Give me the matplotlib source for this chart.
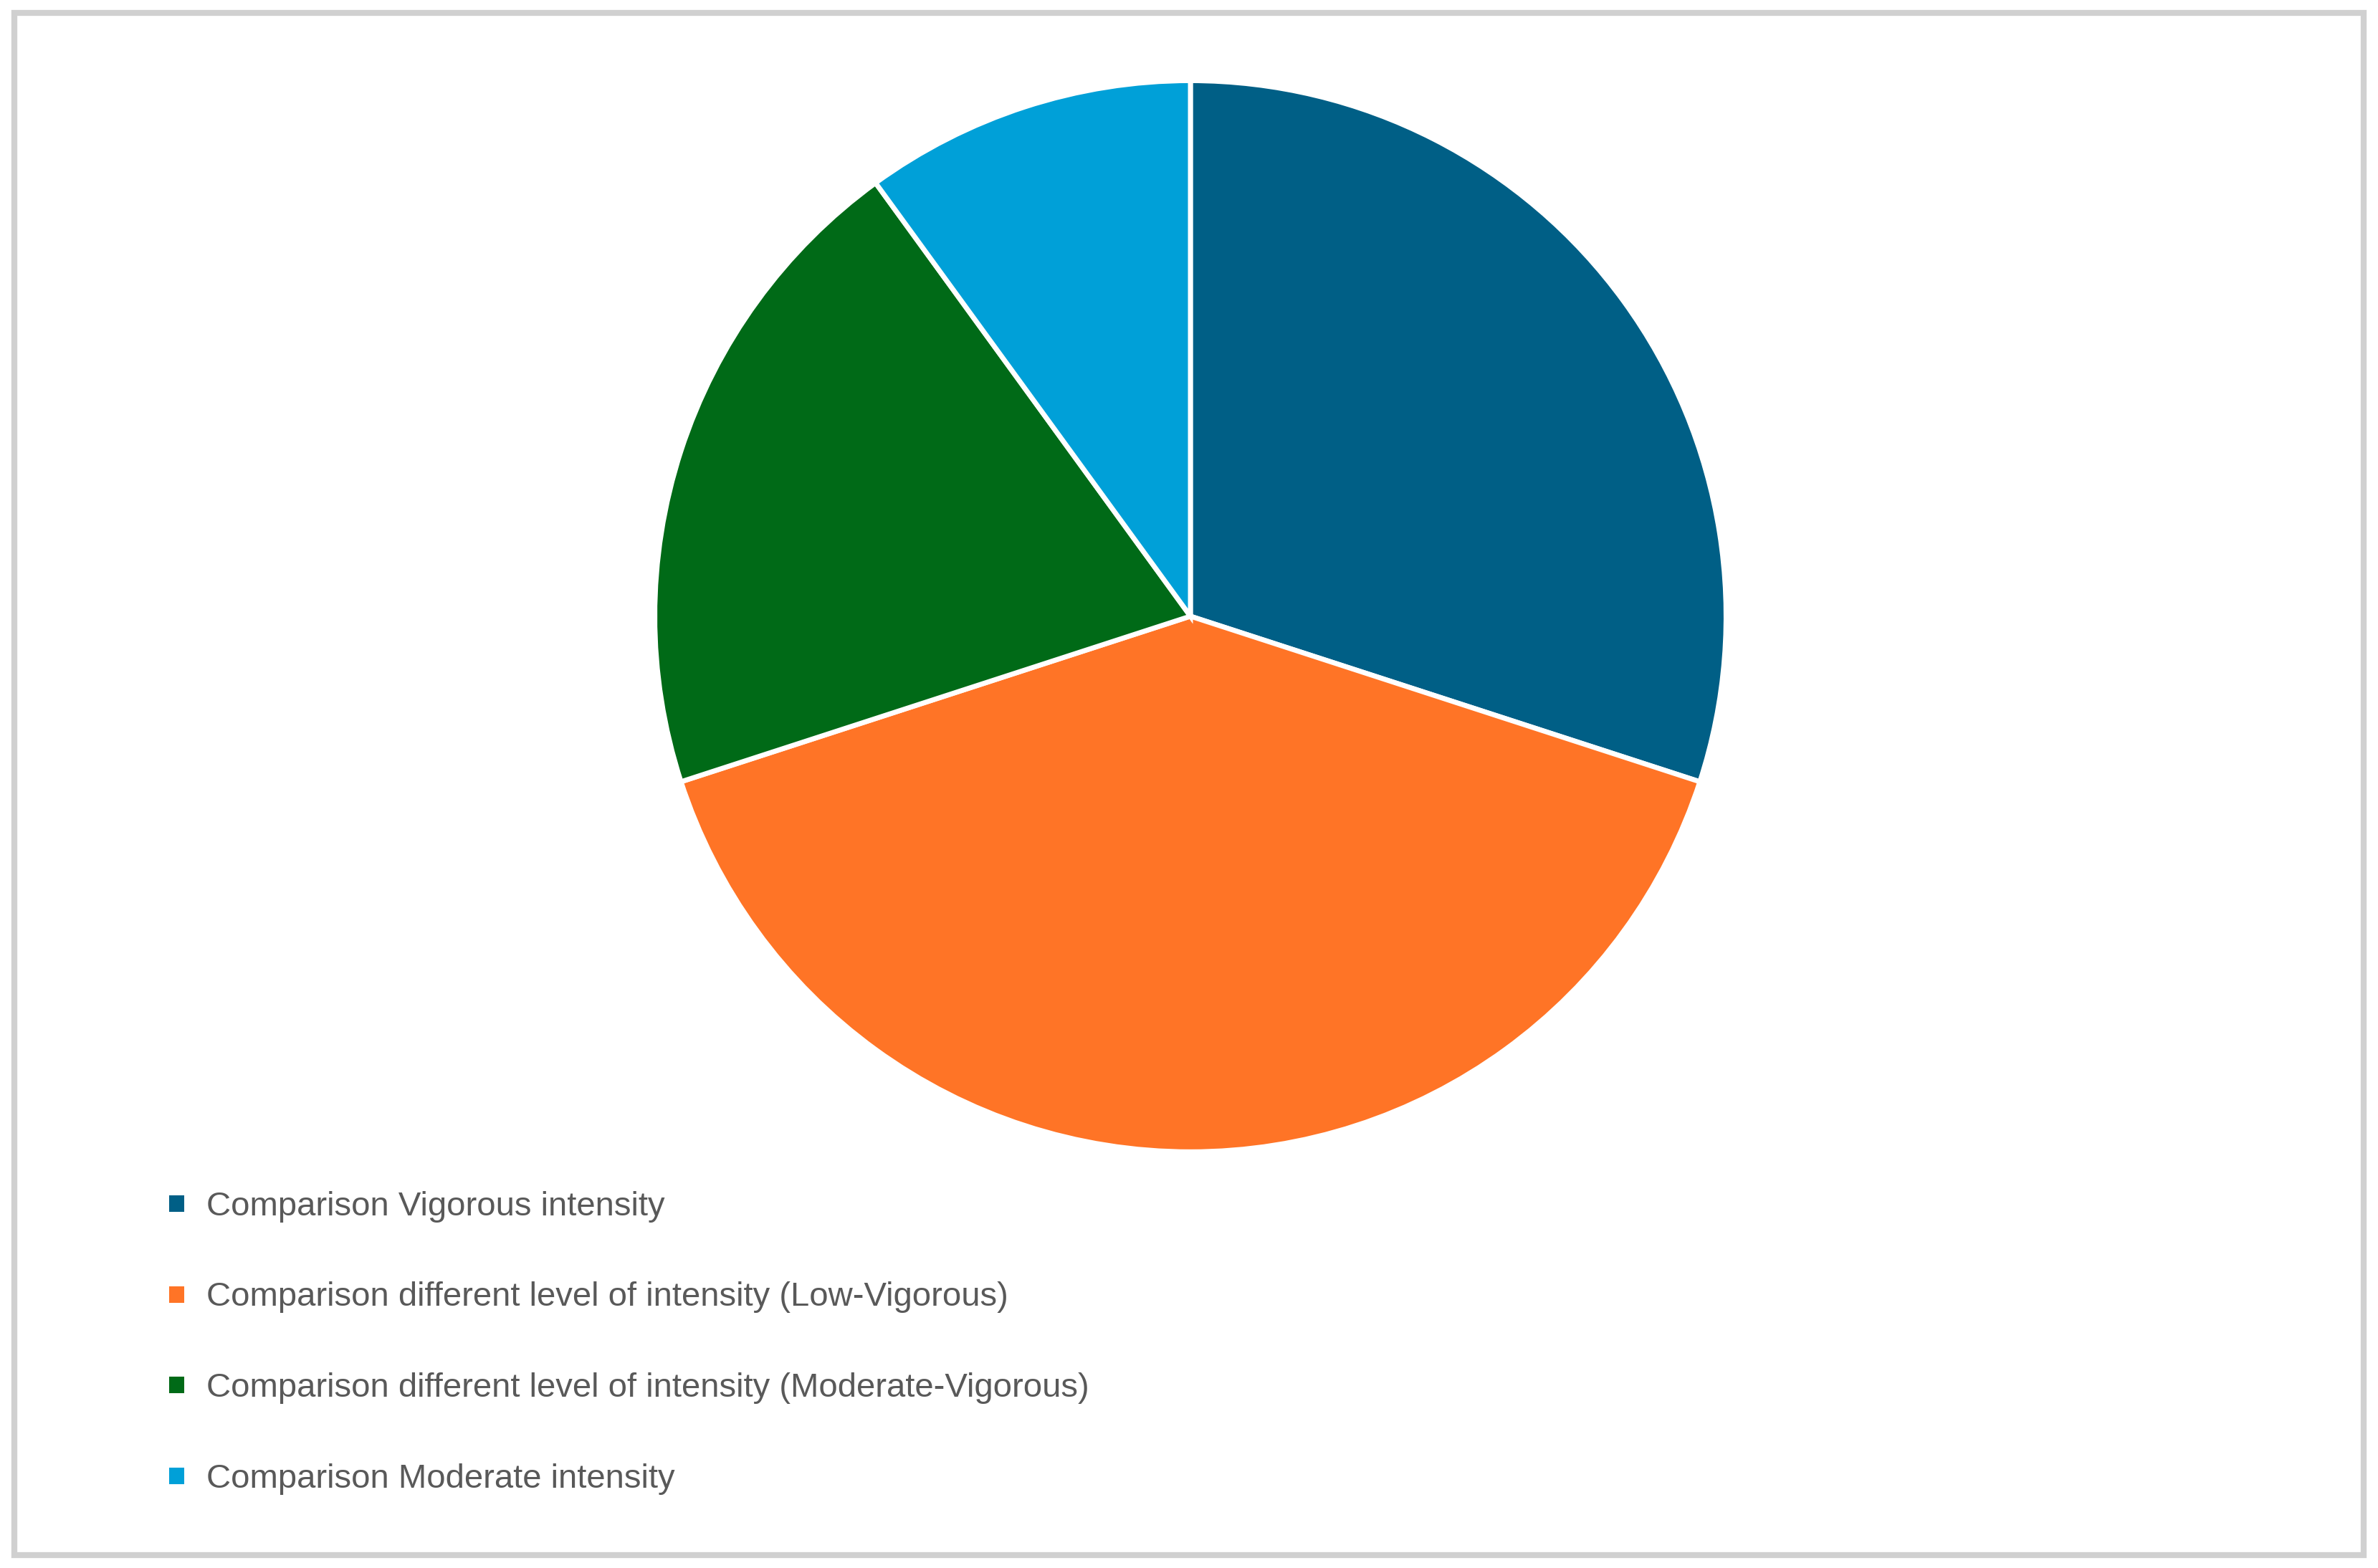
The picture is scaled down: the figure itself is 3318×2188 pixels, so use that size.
import matplotlib.pyplot as plt
from matplotlib.patches import Rectangle

labels = ['Comparison Vigorous intensity',
          'Comparison different level of intensity (Low-Vigorous)',
          'Comparison different level of intensity (Moderate-Vigorous)',
          'Comparison Moderate intensity']
values = [30, 40, 20, 10]
colors = ['#005f86', '#ff7426', '#006a17', '#00a0d8']

fig = plt.figure(figsize=(16.59, 10.94), dpi=200)
fig.patch.set_facecolor('white')

# pie axes, centred where the reference puts it
rh = 0.345
rw = rh * 10.94 / 16.59
ax = fig.add_axes([0.5006 - rw, 0.607 - rh, 2 * rw, 2 * rh])
wedges, _ = ax.pie(values, colors=colors, startangle=90, counterclock=False,
                   radius=1, wedgeprops=dict(edgecolor='white', linewidth=2.5))
ax.set_xlim(-1.01, 1.01)
ax.set_ylim(-1.01, 1.01)
ax.set_aspect('equal')
ax.axis('off')

fig.legend(wedges, labels, loc='upper left', bbox_to_anchor=(0.057, 0.26),
           frameon=False, fontsize=16, labelspacing=1.75, handlelength=0.6,
           handleheight=0.6, handletextpad=0.6,
           labelcolor='#595959', prop={'family': 'Liberation Sans', 'size': 17})

# thin grey frame around the chart
fig.patches.append(Rectangle((0.006, 0.008), 0.988, 0.984, transform=fig.transFigure,
                             fill=False, edgecolor='#d0d0d0', linewidth=3))

fig.savefig('out.png', dpi=200)
